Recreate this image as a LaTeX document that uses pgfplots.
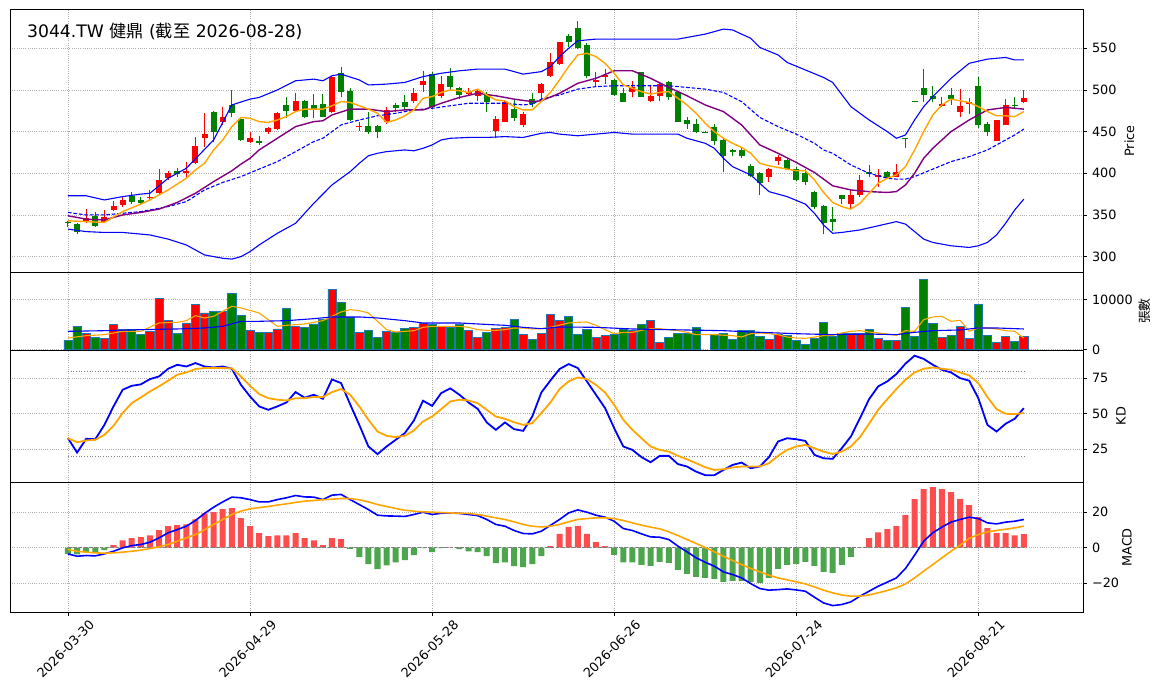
\documentclass[border=0pt]{standalone}
\usepackage{fontspec}
\setmainfont{DejaVu Sans}
\newfontfamily\cjk{Noto Sans CJK TC}
\usepackage{pgfplots}
\usepackage{pgfplotstable}
\pgfplotsset{compat=1.18}
\definecolor{cup}{RGB}{255,0,0}
\definecolor{cdn}{RGB}{0,128,0}
\definecolor{hup}{RGB}{255,77,77}
\definecolor{hdn}{RGB}{77,166,77}
\definecolor{gridc}{RGB}{176,176,176}
\definecolor{edgec}{RGB}{31,119,180}
\definecolor{ora}{RGB}{255,165,0}
\definecolor{pur}{RGB}{128,0,128}
\definecolor{blu}{RGB}{0,0,255}
\newcommand\tickfont{\fontsize{12.8}{15}\selectfont}
\newcommand\titlefont{\fontsize{17.2}{20}\selectfont}

% candles: index, open, high, low, close, volume
\pgfplotstableread{
i o h l c v
2 341 357 340 346 3200
4 342 356 341 347 2200
5 356 367 355 361 5000
6 362 371 360 368 4000
9 370 380 367 372 3670
10 376 405 375 392 10270
11 394 403 392 400 5870
13 400 414 396 403 5340
14 412 444 411 433 9070
15 442 472 432 447 7340
17 461 480 458 468 7670
20 437 450 436 442 3870
22 449 456 447 454 3470
23 453 474 452 472 4140
25 475 496 474 487 4670
29 473 517 472 516 12070
32 455 462 451 457 3470
35 461 479 459 476 3670
38 487 502 484 496 4470
39 506 523 498 511 5200
41 493 517 490 507 4670
44 495 502 493 497 3870
45 493 500 487 499 2470
47 451 469 442 465 4270
48 462 488 461 486 4470
50 458 474 455 471 3000
52 496 508 486 507 3270
53 517 544 515 533 7000
54 531 558 530 557 5870
58 509 522 504 512 2470
59 516 525 507 518 2870
62 498 511 491 503 3870
64 487 505 485 493 5870
65 493 510 487 507 1400
77 396 406 390 405 2130
78 415 422 410 419 3130
86 363 380 357 374 3270
87 374 398 372 392 3270
89 395 405 383 398 2270
91 396 411 395 401 1870
96 481 491 480 483 2470
98 474 501 468 481 4600
99 483 490 471 485 2270
102 439 464 439 464 1400
103 458 489 458 482 2670
105 486 500 484 490 2670
}\upT
\pgfplotstableread{
i o h l c v
0 341 343 336 340 1870
1 339 340 327 329 4670
3 349 353 336 337 2470
7 373 377 363 365 4000
8 368 372 362 364 3000
12 403 406 396 399 3270
16 474 475 437 449 7670
18 482 500 467 472 11270
19 465 466 439 440 6870
21 439 445 434 436 3470
24 482 491 466 475 8270
26 487 488 466 468 4470
27 482 495 466 476 5140
28 483 495 467 468 6000
30 520 527 492 498 9470
31 499 502 463 464 6540
33 457 474 447 450 3870
34 457 458 442 450 2470
36 482 484 474 478 3540
37 486 494 476 480 4270
40 519 522 478 480 5000
42 517 526 500 504 4470
43 502 503 489 494 5000
46 495 498 474 485 3470
49 477 489 463 466 6000
51 489 496 480 483 2070
55 565 567 552 558 6670
56 574 583 549 550 3070
57 554 556 514 517 4070
60 512 513 493 494 3130
61 496 502 485 486 4070
63 521 522 491 492 5000
66 510 511 488 492 2470
67 497 498 462 462 3270
68 464 467 453 459 3270
69 459 465 448 449 4470
70 450 451 448 449 nan
71 455 459 434 439 3130
72 440 441 402 421 3270
73 428 429 421 425 2130
74 428 431 418 421 3870
75 409 411 396 397 3870
76 400 401 374 388 2670
79 416 417 404 405 2870
80 405 408 391 392 1870
81 400 405 386 390 1070
82 378 379 357 359 2270
83 361 362 327 340 5470
84 345 359 331 342 2670
85 374 374 363 369 3270
88 401 410 396 399 4070
90 401 403 393 394 1870
92 442 442 430 441 8470
93 487 487 485 485 2670
94 502 525 486 494 14070
95 493 505 486 489 5270
97 494 502 482 489 2870
100 505 516 454 458 9070
101 459 462 445 450 2870
104 482 491 477 481 1670
}\dnT

\pgfplotsset{
  panel/.style={
    scale only axis, width=1073pt,
    xmin=-6.37, xmax=111.5,
    xtick={0,20,40,60,80,100},
    ytick pos=right, yticklabel pos=right,
    tick align=outside, major tick length=3.5pt,
    tick style={black, line width=0.8pt},
    axis line style={line width=0.8pt},
    grid=major,
    major grid style={color=gridc, line width=0.8pt, dash pattern=on 0.8pt off 1.4pt},
    ticklabel style={font=\tickfont},
    yticklabel style={xshift=2pt},
    scaled ticks=false,
    clip mode=individual,
    every axis y label/.style={rotate=90, anchor=center, font=\tickfont},
  },
  upper/.style={panel, xticklabels={}, xtick style={draw=none}},
}

\begin{document}
\begin{tikzpicture}
\path (0pt,0pt) rectangle (1163pt,-698pt);

% ---------------- price panel
\begin{scope}[shift={(10pt,-9.7pt)}]
\begin{axis}[upper, at={(0pt,0pt)}, anchor=north west, height=262.5pt,
  ymin=281.3, ymax=596.3,
  ytick={300,350,400,450,500,550}, yticklabels={300,350,400,450,500,550},
  ylabel={Price}, ylabel style={at={(axis description cs:1.0433,0.5)}}]
\addplot[quiver={u=0, v=\thisrow{h}-\thisrow{l}}, cup, line width=1pt] table[x=i, y=l] {\upT};
\addplot[quiver={u=0, v=\thisrow{c}-\thisrow{o}}, cup, line width=6pt] table[x=i, y=o] {\upT};
\addplot[quiver={u=0, v=\thisrow{h}-\thisrow{l}}, cdn, line width=1pt] table[x=i, y=l] {\dnT};
\addplot[quiver={u=0, v=\thisrow{c}-\thisrow{o}}, cdn, line width=6pt] table[x=i, y=o] {\dnT};
% upper band
\addplot[blu, line width=1.1pt] coordinates {(0,373)(2,373)(4,368)(6,372)(8,375)(9,376)(11,394)(13,406)(16,440)(18,482)(20,489)(21,491)(23,500)(25,511)(27,513)(28,511)(29,517)(30,519)(32,512)(33,506)(35,507)(37,509)(39,516)(41,520)(43,523)(45,525)(48,525)(50,519)(52,522)(53,528)(54,540)(55,550)(56,559)(58,561)(60,561)(62,561)(67,561)(70,567)(72,573)(73,572)(75,562)(76,551)(78,542)(79,533)(81,524)(83,515)(84,509)(86,480)(88,464)(90,450)(91,442)(92,446)(93,464)(94,480)(95,492)(97,514)(99,532)(101,537)(103,539)(104,536)(105,536)};
% lower band
\addplot[blu, line width=1.1pt] coordinates {(0,333)(2,330)(4,329)(6,329)(8,327)(9,326)(11,321)(13,314)(15,302)(17,298)(18,297)(19,300)(20,306)(21,314)(23,328)(25,340)(26,352)(27,364)(28,375)(29,386)(30,394)(31,402)(32,412)(33,421)(34,424)(35,426)(37,428)(38,427)(39,430)(40,434)(41,440)(42,442)(44,443)(46,443)(48,444)(50,443)(52,448)(53,449)(54,447)(56,445)(58,447)(60,449)(62,447)(67,447)(68,442)(70,436)(71,430)(72,418)(73,408)(75,398)(77,378)(79,372)(81,363)(82,352)(83,338)(84,328)(85,329)(87,332)(89,337)(91,342)(92,339)(93,330)(94,321)(95,317)(97,313)(99,311)(100,313)(101,317)(102,326)(103,340)(104,356)(105,369)};
% MA20
\addplot[blu, line width=1.1pt, dash pattern=on 3.7pt off 1.8pt] coordinates {(0,353)(2,350)(4,350)(6,352)(8,354)(9,356)(11,360)(13,366)(15,380)(17,389)(19,396)(21,405)(23,414)(25,426)(27,438)(28,442)(30,458)(32,464)(34,469)(36,472)(38,476)(40,478)(42,481)(44,484)(46,484)(48,484)(50,482)(51,483)(52,489)(54,494)(56,501)(58,504)(60,505)(62,505)(66,505)(68,503)(70,501)(72,497)(74,486)(76,467)(78,456)(80,447)(82,436)(83,428)(84,424)(86,410)(88,400)(90,394)(91,393)(92,393)(93,396)(95,405)(97,414)(99,420)(101,428)(102,434)(104,446)(105,453)};
% MA10
\addplot[pur, line width=1.4pt] coordinates {(0,349)(2,345)(4,344)(6,350)(8,353)(10,357)(12,365)(14,376)(16,390)(18,403)(19,411)(20,418)(21,428)(23,442)(25,456)(27,462)(28,463)(29,470)(31,477)(33,477)(35,474)(37,476)(39,476)(41,484)(43,491)(45,496)(47,493)(49,489)(51,486)(52,487)(54,496)(56,508)(58,514)(60,523)(62,523)(64,514)(66,503)(68,493)(70,482)(72,474)(74,458)(76,434)(78,424)(80,413)(82,401)(84,385)(86,380)(88,378)(90,377)(91,378)(92,386)(93,400)(94,418)(95,430)(97,450)(99,464)(101,476)(103,479)(105,477)};
% MA5
\addplot[ora, line width=1.4pt] coordinates {(0,343)(2,342)(4,341)(6,354)(8,363)(9,368)(11,380)(13,394)(14,404)(15,412)(16,428)(17,440)(18,456)(19,467)(20,466)(21,462)(22,461)(23,464)(24,468)(25,474)(26,477)(27,477)(28,477)(29,481)(30,486)(31,485)(32,481)(33,477)(34,472)(35,461)(36,464)(37,469)(38,476)(39,490)(40,492)(41,497)(42,500)(43,499)(44,497)(45,501)(46,494)(47,488)(48,487)(49,480)(50,476)(51,476)(52,486)(53,497)(54,512)(55,528)(56,542)(57,544)(58,540)(59,532)(60,520)(61,506)(62,502)(63,498)(64,495)(65,497)(66,498)(67,490)(68,482)(69,472)(70,460)(71,450)(72,442)(73,436)(74,431)(75,424)(76,412)(77,409)(78,407)(79,405)(80,403)(81,403)(82,392)(83,377)(84,365)(85,360)(86,357)(87,364)(88,376)(89,388)(90,394)(91,398)(92,408)(93,428)(94,450)(95,470)(96,482)(97,489)(98,487)(99,485)(100,480)(101,474)(102,469)(103,469)(104,468)(105,474)};
\node[anchor=west, inner sep=0pt, font=\titlefont] at (axis description cs:0.0158,0.917) {3044.TW {\cjk 健鼎} ({\cjk 截至} 2026-08-28)};
\end{axis}
\end{scope}

% ---------------- volume panel
\begin{scope}[shift={(10pt,-272.2pt)}]
\begin{axis}[upper, at={(0pt,0pt)}, anchor=north west, height=77.8pt,
  ymin=-60, ymax=15480,
  ytick={0,10000}, yticklabels={0,10000},
  ylabel={\cjk 張數}, ylabel style={at={(axis description cs:1.0578,0.5)}}]
\addplot[ybar, bar width=0.9, bar shift=0pt, fill=cup, draw=edgec, line width=0.7pt] table[x=i, y=v] {\upT};
\addplot[ybar, bar width=0.9, bar shift=0pt, fill=cdn, draw=edgec, line width=0.7pt] table[x=i, y=v] {\dnT};
\addplot[ora, line width=1.1pt] coordinates {(0,2330)(2,2800)(4,3000)(6,3670)(8,3670)(10,5340)(12,5470)(13,5800)(14,6800)(15,6340)(16,6670)(17,7670)(18,8670)(19,8340)(21,7340)(23,4670)(24,4870)(26,5140)(28,5800)(29,6670)(30,7540)(31,8000)(32,7800)(33,7340)(34,5670)(35,4000)(36,3540)(37,3670)(38,3800)(39,4470)(40,4670)(41,4670)(43,4670)(44,4470)(45,4000)(46,3870)(47,3870)(48,4000)(49,4340)(50,4340)(51,4140)(52,4200)(53,4470)(55,5340)(56,5470)(57,5540)(58,4870)(59,4000)(60,3200)(61,3470)(62,3470)(63,3870)(64,4200)(65,4200)(66,4000)(67,3800)(68,3470)(69,3000)(71,3000)(73,2800)(74,2530)(75,3200)(76,3340)(77,3200)(78,3000)(79,2530)(80,2330)(81,2270)(82,2530)(83,2800)(84,2870)(85,3340)(86,3670)(87,3800)(88,3540)(89,3340)(90,3130)(91,2870)(92,3800)(93,3670)(94,6000)(95,6540)(96,6670)(97,5670)(98,5870)(99,3670)(100,4340)(101,4340)(102,4140)(103,3800)(104,3670)(105,2330)};
\addplot[blu, line width=1.1pt] coordinates {(0,3670)(4,3800)(8,4000)(12,4140)(15,4340)(17,4670)(19,5670)(21,5670)(24,5800)(27,6200)(29,6540)(32,6540)(34,6340)(37,5800)(39,5340)(43,5340)(45,5140)(48,4870)(50,4470)(52,4200)(54,4540)(58,4470)(62,4140)(66,4000)(70,3870)(72,3800)(75,3540)(80,3200)(84,3000)(88,3130)(91,3000)(93,3470)(95,3800)(98,3940)(100,4340)(102,4340)(105,4140)};
\end{axis}
\end{scope}

% ---------------- KD panel
\begin{scope}[shift={(10pt,-350pt)}]
\begin{axis}[upper, at={(0pt,0pt)}, anchor=north west, height=132pt,
  ymin=2.0, ymax=94.9,
  ytick={25,50,75}, yticklabels={25,50,75},
  ylabel={KD}, ylabel style={at={(axis description cs:1.0354,0.5)}}]
\addplot[gray, line width=1pt, dash pattern=on 1pt off 1.7pt] coordinates {(0,80)(105,80)};
\addplot[gray, line width=1pt, dash pattern=on 1pt off 1.7pt] coordinates {(0,20)(105,20)};
\addplot[blu, line width=1.8pt] coordinates {(0,32.8)(1,22.7)(2,32.4)(3,32.1)(4,42.2)(5,55.2)(6,66.9)(7,69.7)(8,70.7)(9,74.4)(10,76.3)(11,81.7)(12,84.5)(13,83.3)(14,85.7)(15,83.3)(16,82.6)(17,83.3)(18,81.7)(19,70.4)(20,62.2)(21,55.2)(22,52.8)(23,55.2)(24,58.0)(25,65.3)(26,61.3)(27,63.4)(28,60.6)(29,74.2)(30,71.6)(31,56.6)(32,42.2)(33,27.0)(34,21.6)(35,27.0)(36,31.7)(37,36.4)(38,45.3)(39,59.2)(40,55.6)(41,64.6)(42,67.9)(43,63.4)(44,58.0)(45,53.5)(46,43.9)(47,38.7)(48,43.9)(49,39.2)(50,38.0)(51,48.1)(52,65.0)(53,73.5)(54,81.5)(55,85.0)(56,82.2)(57,72.8)(58,63.4)(59,54.0)(60,39.9)(61,27.0)(62,24.6)(63,19.5)(64,15.9)(65,20.4)(66,20.4)(67,14.6)(68,12.9)(69,9.3)(70,6.8)(71,6.8)(72,10.5)(73,14.0)(74,15.7)(75,11.7)(76,12.9)(77,19.5)(78,30.5)(79,32.8)(80,32.1)(81,30.9)(82,21.1)(83,18.7)(84,18.3)(85,25.8)(86,34.0)(87,46.9)(88,60.3)(89,69.3)(90,72.8)(91,78.0)(92,85.3)(93,90.9)(94,88.6)(95,84.5)(96,81.0)(97,79.1)(98,75.1)(99,73.3)(100,61.0)(101,42.2)(102,37.5)(103,43.0)(104,46.5)(105,54.0)};
\addplot[ora, line width=1.8pt] coordinates {(0,32.8)(1,30.0)(2,31.2)(3,31.7)(4,35.2)(5,41.5)(6,50.5)(7,57.5)(8,61.5)(9,65.7)(10,69.3)(11,73.3)(12,77.5)(13,79.1)(14,81.5)(15,82.2)(16,82.2)(17,82.2)(18,82.0)(19,76.3)(20,69.7)(21,63.9)(22,61.0)(23,59.9)(24,59.4)(25,61.0)(26,61.0)(27,61.8)(28,61.8)(29,65.3)(30,67.4)(31,63.4)(32,55.2)(33,45.8)(34,37.5)(35,34.5)(36,33.6)(37,34.5)(38,38.3)(39,44.6)(40,48.1)(41,53.3)(42,58.7)(43,59.9)(44,59.4)(45,57.5)(46,52.8)(47,48.1)(48,46.5)(49,44.1)(50,42.2)(51,43.4)(52,50.5)(53,58.0)(54,67.4)(55,72.8)(56,75.6)(57,74.4)(58,70.4)(59,65.0)(60,56.3)(61,45.8)(62,38.7)(63,32.8)(64,27.0)(65,24.6)(66,23.4)(67,20.4)(68,18.0)(69,15.2)(70,12.4)(71,10.5)(72,11.0)(73,12.2)(74,12.9)(75,12.9)(76,12.9)(77,15.2)(78,20.4)(79,24.6)(80,27.0)(81,28.1)(82,25.8)(83,23.4)(84,21.7)(85,23.4)(86,27.0)(87,33.6)(88,43.0)(89,52.8)(90,60.3)(91,67.4)(92,74.0)(93,79.1)(94,81.7)(95,82.6)(96,81.7)(97,81.0)(98,79.1)(99,77.0)(100,71.6)(101,61.8)(102,53.3)(103,50.0)(104,49.8)(105,50.5)};
\end{axis}
\end{scope}

% ---------------- MACD panel
\begin{scope}[shift={(10pt,-482pt)}]
\begin{axis}[panel, at={(0pt,0pt)}, anchor=north west, height=130.7pt,
  ymin=-36.7, ymax=36.9,
  ytick={-20,0,20}, yticklabels={−20,0,20},
  xtick pos=left,
  xticklabels={2026-03-30,2026-04-29,2026-05-28,2026-06-26,2026-07-24,2026-08-21},
  xticklabel style={rotate=45, anchor=north east, inner sep=0pt, xshift=12.4pt, yshift=-16.6pt},
  ylabel={MACD}, ylabel style={at={(axis description cs:1.041,0.5)}}]
\addplot[ybar, bar width=0.66, bar shift=0pt, fill=hup, draw=none] coordinates {(5,1.3)(6,4.1)(7,5.3)(8,5.8)(9,6.9)(10,9.8)(11,12.0)(12,12.6)(13,13.1)(14,15.8)(15,19.3)(16,19.9)(17,21.6)(18,22.2)(19,16.5)(20,12.0)(21,8.1)(22,6.4)(23,6.9)(24,6.9)(25,8.1)(26,5.3)(27,4.1)(28,1.3)(29,5.3)(30,4.7)(42,0.1)(53,0.8)(54,7.7)(55,11.6)(56,12.2)(57,7.7)(58,3.0)(59,0.8)(88,5.3)(89,8.6)(90,10.3)(91,12.0)(92,18.2)(93,27.2)(94,32.9)(95,34.0)(96,32.9)(97,31.2)(98,27.2)(99,23.9)(100,17.1)(101,10.9)(102,8.1)(103,8.1)(104,6.9)(105,7.5)};
\addplot[ybar, bar width=0.66, bar shift=0pt, fill=hdn, draw=none] coordinates {(0,-3.6)(1,-3.9)(2,-2.4)(3,-2.6)(4,-1.5)(31,-0.8)(32,-5.4)(33,-9.4)(34,-12.2)(35,-10.0)(36,-8.3)(37,-7.1)(38,-4.3)(39,-0.3)(40,-2.6)(41,-0.3)(43,-0.9)(44,-2.1)(45,-2.6)(46,-4.9)(47,-8.8)(48,-8.3)(49,-10.5)(50,-11.1)(51,-9.4)(52,-4.8)(60,-4.1)(61,-8.3)(62,-8.3)(63,-9.8)(64,-10.3)(65,-8.1)(66,-8.6)(67,-12.6)(68,-14.8)(69,-16.5)(70,-17.1)(71,-17.7)(72,-19.3)(73,-18.8)(74,-18.8)(75,-19.3)(76,-19.9)(77,-17.1)(78,-12.0)(79,-9.8)(80,-9.2)(81,-8.1)(82,-10.3)(83,-13.7)(84,-14.3)(85,-9.8)(86,-5.3)(87,-0.1)};
\addplot[gray, line width=1pt, dash pattern=on 3.7pt off 1.6pt] coordinates {(0,0)(105,0)};
\addplot[blu, line width=1.6pt] coordinates {(0,-3.6)(1,-4.9)(2,-4.5)(3,-4.7)(4,-3.6)(5,-2.1)(6,-0.2)(7,1.1)(8,1.7)(9,3.0)(10,5.4)(11,8.3)(12,10.1)(13,12.0)(14,15.2)(15,19.2)(16,22.7)(17,25.7)(18,28.4)(19,28.0)(20,27.0)(21,25.7)(22,25.7)(23,27.0)(24,28.0)(25,29.3)(26,28.5)(27,28.4)(28,27.0)(29,29.5)(30,29.9)(31,27.0)(32,24.2)(33,21.4)(34,18.2)(35,17.8)(36,17.7)(37,17.5)(38,18.6)(39,19.9)(40,18.6)(41,19.3)(42,19.5)(43,19.2)(44,18.6)(45,18.0)(46,15.8)(47,13.0)(48,12.0)(49,9.6)(50,7.9)(51,7.7)(52,9.2)(53,12.5)(54,15.8)(55,19.5)(56,21.2)(57,19.9)(58,18.2)(59,17.1)(60,14.8)(61,10.7)(62,9.6)(63,7.7)(64,6.0)(65,5.8)(66,4.5)(67,0.8)(68,-2.4)(69,-5.8)(70,-8.3)(71,-10.5)(72,-13.7)(73,-15.2)(74,-17.1)(75,-20.3)(76,-23.1)(77,-24.0)(78,-23.7)(79,-23.3)(80,-23.9)(81,-24.6)(82,-28.0)(83,-31.2)(84,-32.7)(85,-32.1)(86,-30.6)(87,-27.4)(88,-24.6)(89,-21.8)(90,-19.5)(91,-17.1)(92,-11.8)(93,-4.3)(94,3.6)(95,8.3)(96,11.5)(97,14.3)(98,15.8)(99,17.1)(100,16.3)(101,13.9)(102,13.3)(103,14.3)(104,14.8)(105,15.8)};
\addplot[ora, line width=1.6pt] coordinates {(0,-1.1)(1,-2.1)(2,-2.6)(3,-3.0)(4,-3.2)(5,-3.0)(6,-2.6)(7,-2.1)(8,-1.5)(9,-0.6)(10,0.4)(11,1.7)(12,3.6)(13,5.4)(14,7.3)(15,10.1)(16,13.0)(17,15.8)(18,18.6)(19,20.5)(20,21.8)(21,22.5)(22,23.1)(23,23.9)(24,24.6)(25,25.4)(26,26.1)(27,26.5)(28,26.9)(29,27.2)(30,27.6)(31,27.6)(32,26.9)(33,25.7)(34,24.2)(35,23.1)(36,22.0)(37,21.0)(38,20.5)(39,20.1)(40,19.9)(41,19.7)(42,19.5)(43,19.3)(44,19.2)(45,18.6)(46,17.7)(47,16.7)(48,15.8)(49,14.5)(50,13.0)(51,12.0)(52,11.6)(53,12.0)(54,13.0)(55,14.5)(56,15.8)(57,16.3)(58,16.7)(59,16.7)(60,16.3)(61,15.2)(62,13.9)(63,12.6)(64,11.5)(65,10.5)(66,8.8)(67,6.8)(68,4.5)(69,2.3)(70,0.0)(71,-2.4)(72,-4.9)(73,-7.3)(74,-9.6)(75,-11.8)(76,-13.7)(77,-15.6)(78,-17.1)(79,-18.2)(80,-19.3)(81,-20.5)(82,-22.2)(83,-24.0)(84,-25.5)(85,-26.7)(86,-27.4)(87,-27.4)(88,-26.7)(89,-25.5)(90,-24.2)(91,-22.7)(92,-20.5)(93,-17.1)(94,-13.3)(95,-9.6)(96,-5.8)(97,-2.1)(98,1.3)(99,5.1)(100,7.3)(101,8.8)(102,9.6)(103,10.3)(104,11.1)(105,12.0)};
\end{axis}
\end{scope}
\end{tikzpicture}
\end{document}
